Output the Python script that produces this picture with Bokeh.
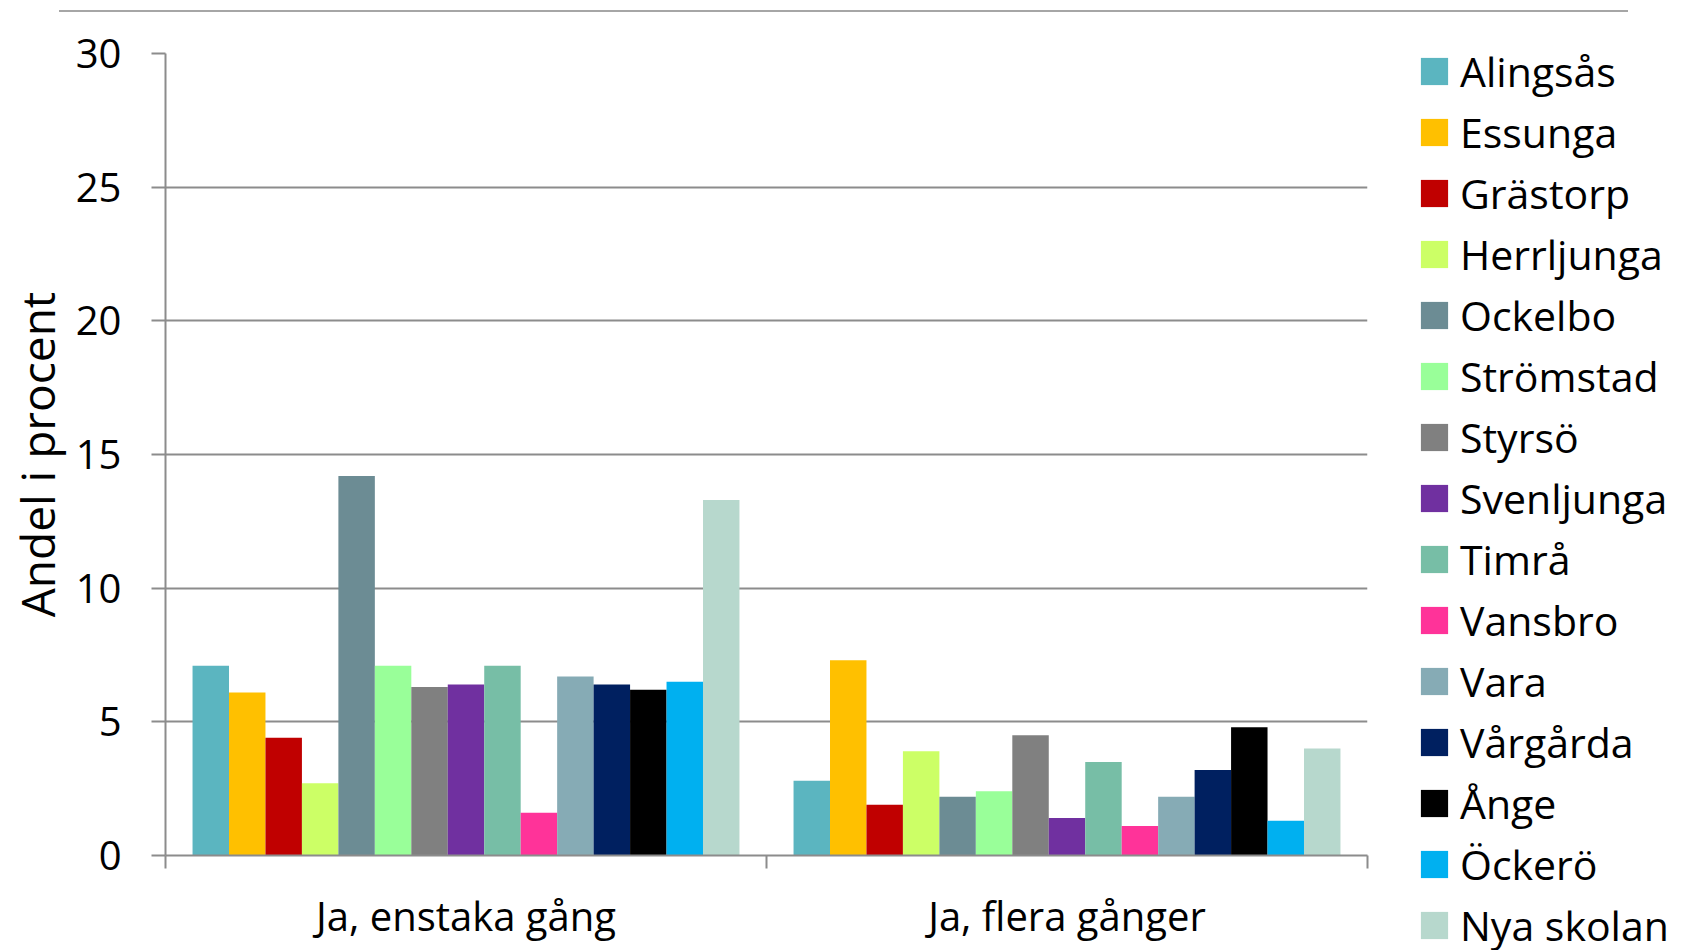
from bokeh.plotting import figure
from bokeh.models import (Range1d, LinearAxis, FixedTicker,
                          Legend, LegendItem, ColumnDataSource)
from bokeh.embed import file_html
from bokeh.resources import INLINE

categories = ["Ja, enstaka gång", "Ja, flera gånger"]
schools = ["Alingsås", "Essunga", "Grästorp", "Herrljunga", "Ockelbo", "Strömstad",
           "Styrsö", "Svenljunga", "Timrå", "Vansbro", "Vara", "Vårgårda", "Ånge",
           "Öckerö", "Nya skolan"]
enstaka = [7.1, 6.1, 4.4, 2.7, 14.2, 7.1, 6.3, 6.4, 7.1, 1.6, 6.7, 6.4, 6.2, 6.5, 13.3]
flera = [2.8, 7.3, 1.9, 3.9, 2.2, 2.4, 4.5, 1.4, 3.5, 1.1, 2.2, 3.2, 4.8, 1.3, 4.0]
colors = ["#5BB5C0", "#FFC000", "#C00000", "#CCFF66", "#6C8C94", "#99FF99", "#808080",
          "#7030A0", "#77BEA6", "#FF3399", "#86ABB5", "#002060", "#000000", "#00B0F0",
          "#B7D8CD"]
y_ticks = [0, 5, 10, 15, 20, 25, 30]
y_title = "Andel i procent"

FONT = "Open Sans"
GRID = "#8C8C8C"

ncat = len(categories)
p = figure(frame_width=1202, frame_height=802,
           x_range=Range1d(0, ncat),
           y_range=Range1d(0, 30),
           output_backend="svg", toolbar_location=None, x_axis_location=None,
           min_border_left=165, min_border_right=313, min_border_top=53, min_border_bottom=95)
p.outline_line_color = None
p.border_fill_color = None
p.background_fill_color = "white"
p.styles = {
    "background-color": "white",
    "background-image": "linear-gradient(#A6A6A6, #A6A6A6)",
    "background-size": "1569px 2px",
    "background-position": "59px 10px",
    "background-repeat": "no-repeat",
}
p.xgrid.visible = False
p.ygrid.grid_line_color = GRID
p.ygrid.grid_line_width = 2
p.ygrid.ticker = FixedTicker(ticks=y_ticks)

yax = p.yaxis[0]
yax.ticker = FixedTicker(ticks=y_ticks)
yax.axis_line_color = GRID
yax.axis_line_width = 2
yax.major_tick_line_color = GRID
yax.major_tick_line_width = 2
yax.major_tick_out = 14
yax.major_tick_in = 0
yax.minor_tick_out = 0
yax.minor_tick_in = 0
yax.major_label_standoff = 30
yax.major_label_text_font = FONT
yax.major_label_text_font_size = "40px"
yax.major_label_text_color = "#000000"
yax.axis_label = y_title
yax.axis_label_text_font = FONT
yax.axis_label_text_font_size = "46px"
yax.axis_label_text_font_style = "normal"
yax.axis_label_text_color = "#000000"
yax.axis_label_standoff = 5

n = len(schools)
group = 0.91
bw = group / n
renderers = []
for i, s in enumerate(schools):
    xs = [ci + 0.5 + (i - (n - 1) / 2) * bw for ci in range(ncat)]
    src = ColumnDataSource(dict(x=xs, top=[enstaka[i], flera[i]]))
    r = p.vbar(x="x", top="top", width=bw, source=src,
               fill_color=colors[i], line_color=None)
    renderers.append(r)

sep_axis = LinearAxis(ticker=FixedTicker(ticks=list(range(ncat + 1))),
                      axis_line_color=GRID, axis_line_width=2,
                      major_tick_line_color=GRID, major_tick_line_width=2,
                      major_tick_out=13, major_tick_in=0, minor_tick_out=0, minor_tick_in=0,
                      major_label_text_font_size="0px", major_label_text_alpha=0,
                      major_label_standoff=0)
p.add_layout(sep_axis, "below")
centers = [ci + 0.5 for ci in range(ncat)]
cat_axis = LinearAxis(ticker=FixedTicker(ticks=centers),
                      major_label_overrides={c: lab for c, lab in zip(centers, categories)},
                      axis_line_color=None, major_tick_line_color=None,
                      major_tick_out=0, major_tick_in=0, minor_tick_out=0, minor_tick_in=0,
                      major_label_standoff=19,
                      major_label_text_font=FONT, major_label_text_font_size="40px",
                      major_label_text_color="#000000")
p.add_layout(cat_axis, "below")

legend = Legend(items=[LegendItem(label=s, renderers=[r]) for s, r in zip(schools, renderers)],
                location=(50, -100), glyph_width=34, glyph_height=34, label_height=61,
                spacing=0, padding=0, margin=0, label_standoff=9, ncols=1,
                label_text_font=FONT, label_text_font_size="41px", label_text_color="#000000",
                border_line_color=None, background_fill_alpha=0)
p.add_layout(legend, "right")

open("out.html", "w").write(file_html(p, INLINE))
